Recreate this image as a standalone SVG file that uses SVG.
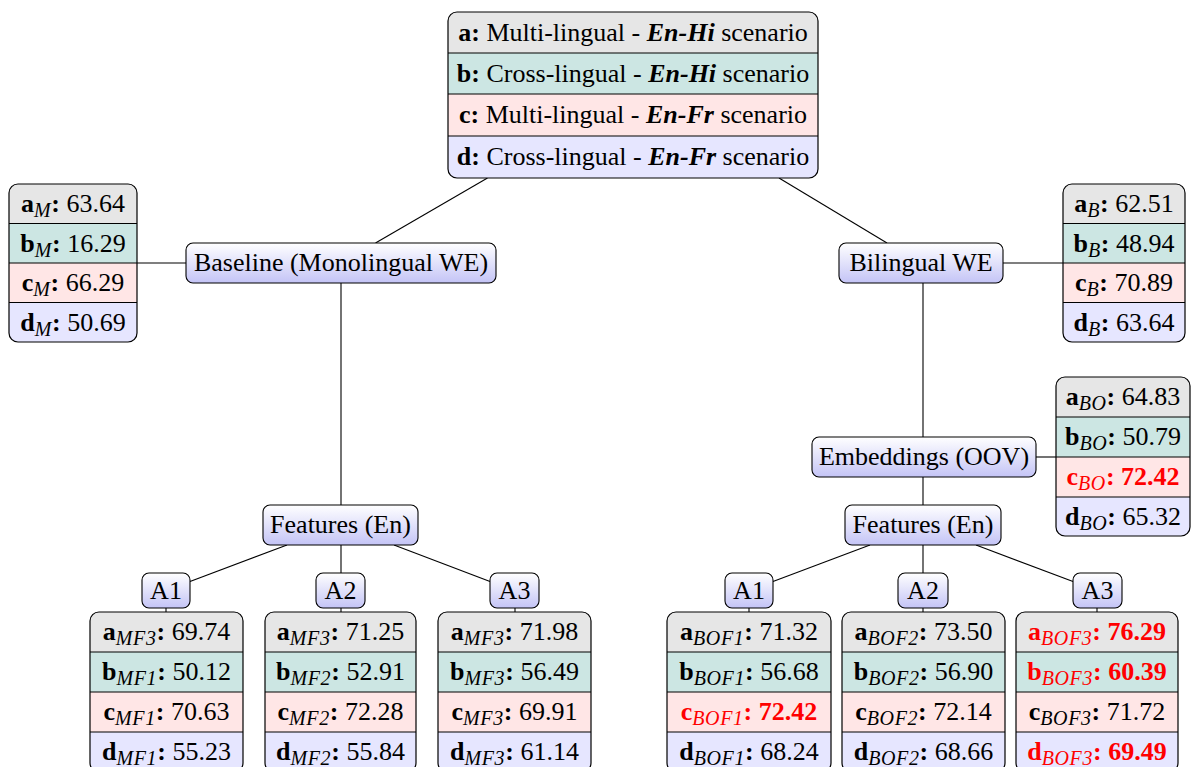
<svg xmlns="http://www.w3.org/2000/svg" width="1192" height="767" viewBox="0 0 1192 767">
<style>
text{font-family:"Liberation Serif","Times New Roman",serif;font-size:26px;fill:#000;text-anchor:middle}
.b{font-weight:bold}
.bi{font-weight:bold;font-style:italic}
.s{font-style:italic;font-size:20px;letter-spacing:0.6px}
.red{fill:#ff0000}
.ra{fill:#e6e6e6}.rb{fill:#cce6e3}.rc{fill:#ffe6e6}.rd{fill:#e6e6ff}
.mid{stroke:none}
.sep{stroke:#000;stroke-width:1.1}
.out{fill:none;stroke:#000;stroke-width:1.2}
.node{fill:url(#ng);stroke:#000;stroke-width:1.1}
#edges line{stroke:#000;stroke-width:1.1}
</style>
<defs>
<linearGradient id="ng" x1="0" y1="0" x2="0" y2="1"><stop offset="0" stop-color="#ffffff"/><stop offset="1" stop-color="#c4c4f6"/></linearGradient>
</defs>
<rect width="1192" height="767" fill="#fff"/>
<g id="edges">
<line x1="487.5" y1="178" x2="375.5" y2="243"/>
<line x1="779" y1="178" x2="887" y2="243"/>
<line x1="137" y1="263" x2="186" y2="263"/>
<line x1="1003" y1="263" x2="1063" y2="263"/>
<line x1="341" y1="283" x2="341" y2="505"/>
<line x1="923" y1="283" x2="923" y2="437"/>
<line x1="1036" y1="457" x2="1056" y2="457"/>
<line x1="923" y1="477" x2="923" y2="505"/>
<line x1="287" y1="545" x2="190" y2="581.5"/>
<line x1="341" y1="545" x2="341" y2="573"/>
<line x1="394" y1="545" x2="490" y2="581.5"/>
<line x1="870" y1="545" x2="773" y2="581.5"/>
<line x1="923" y1="545" x2="923" y2="573"/>
<line x1="976" y1="545" x2="1073" y2="581.5"/>
<line x1="166" y1="608" x2="166" y2="612"/>
<line x1="341" y1="608" x2="341" y2="612"/>
<line x1="515" y1="608" x2="515" y2="612"/>
<line x1="749" y1="608" x2="749" y2="612"/>
<line x1="923" y1="608" x2="923" y2="612"/>
<line x1="1097" y1="608" x2="1097" y2="612"/>
</g>
<g id="legend">
<rect class="rd" x="448" y="12" width="370" height="166" rx="9"/>
<rect class="ra" x="448" y="12" width="370" height="124" rx="9"/>
<rect class="rb mid" x="448" y="53" width="370" height="41"/>
<rect class="rc mid" x="448" y="94" width="370" height="42"/>
<line class="sep" x1="448" y1="53" x2="818" y2="53"/><line class="sep" x1="448" y1="94" x2="818" y2="94"/><line class="sep" x1="448" y1="136" x2="818" y2="136"/>
<rect class="out" x="448" y="12" width="370" height="166" rx="9"/>
<text x="633" y="41"><tspan class="b">a:</tspan> Multi-lingual - <tspan class="bi">En-Hi</tspan> scenario</text>
<text x="633" y="82"><tspan class="b">b:</tspan> Cross-lingual - <tspan class="bi">En-Hi</tspan> scenario</text>
<text x="633" y="123"><tspan class="b">c:</tspan> Multi-lingual - <tspan class="bi">En-Fr</tspan> scenario</text>
<text x="633" y="165"><tspan class="b">d:</tspan> Cross-lingual - <tspan class="bi">En-Fr</tspan> scenario</text>
</g>
<g id="baseline"><rect class="node" x="186" y="243" width="310" height="40" rx="7"/><text x="341" y="271">Baseline (Monolingual WE)</text></g>
<g id="bilingual"><rect class="node" x="839" y="243" width="164" height="40" rx="7"/><text x="921" y="271">Bilingual WE</text></g>
<g id="embeddings"><rect class="node" x="812" y="437" width="224" height="40" rx="7"/><text x="924" y="465">Embeddings (OOV)</text></g>
<g id="featL"><rect class="node" x="263" y="505" width="155" height="40" rx="7"/><text x="340.5" y="533">Features (En)</text></g>
<g id="featR"><rect class="node" x="845" y="505" width="156" height="40" rx="7"/><text x="923" y="533">Features (En)</text></g>
<g id="LA1"><rect class="node" x="142" y="573" width="48" height="35" rx="7"/><text x="166" y="599">A1</text></g>
<g id="LA2"><rect class="node" x="316" y="573" width="49" height="35" rx="7"/><text x="340.5" y="599">A2</text></g>
<g id="LA3"><rect class="node" x="490" y="573" width="49" height="35" rx="7"/><text x="514.5" y="599">A3</text></g>
<g id="RA1"><rect class="node" x="725" y="573" width="48" height="35" rx="7"/><text x="749" y="599">A1</text></g>
<g id="RA2"><rect class="node" x="898" y="573" width="50" height="35" rx="7"/><text x="923" y="599">A2</text></g>
<g id="RA3"><rect class="node" x="1073" y="573" width="49" height="35" rx="7"/><text x="1097.5" y="599">A3</text></g>

<g id="tM">
<rect class="rd" x="9" y="184" width="128" height="158" rx="9"/>
<rect class="ra" x="9" y="184" width="128" height="118" rx="9"/>
<rect class="rb mid" x="9" y="223.5" width="128" height="39.5"/>
<rect class="rc mid" x="9" y="263" width="128" height="39.5"/>
<line class="sep" x1="9" y1="223.5" x2="137" y2="223.5"/><line class="sep" x1="9" y1="263" x2="137" y2="263"/><line class="sep" x1="9" y1="302.5" x2="137" y2="302.5"/>
<rect class="out" x="9" y="184" width="128" height="158" rx="9"/>
<text x="73" y="212"><tspan class="b">a</tspan><tspan class="s" dy="5">M</tspan><tspan class="b" dy="-5">:</tspan> 63.64</text>
<text x="73" y="251.5"><tspan class="b">b</tspan><tspan class="s" dy="5">M</tspan><tspan class="b" dy="-5">:</tspan> 16.29</text>
<text x="73" y="291"><tspan class="b">c</tspan><tspan class="s" dy="5">M</tspan><tspan class="b" dy="-5">:</tspan> 66.29</text>
<text x="73" y="330.5"><tspan class="b">d</tspan><tspan class="s" dy="5">M</tspan><tspan class="b" dy="-5">:</tspan> 50.69</text>
</g>

<g id="tB">
<rect class="rd" x="1063" y="184" width="122" height="158" rx="9"/>
<rect class="ra" x="1063" y="184" width="122" height="118" rx="9"/>
<rect class="rb mid" x="1063" y="223.5" width="122" height="39.5"/>
<rect class="rc mid" x="1063" y="263" width="122" height="39.5"/>
<line class="sep" x1="1063" y1="223.5" x2="1185" y2="223.5"/><line class="sep" x1="1063" y1="263" x2="1185" y2="263"/><line class="sep" x1="1063" y1="302.5" x2="1185" y2="302.5"/>
<rect class="out" x="1063" y="184" width="122" height="158" rx="9"/>
<text x="1124" y="212"><tspan class="b">a</tspan><tspan class="s" dy="5">B</tspan><tspan class="b" dy="-5">:</tspan> 62.51</text>
<text x="1124" y="251.5"><tspan class="b">b</tspan><tspan class="s" dy="5">B</tspan><tspan class="b" dy="-5">:</tspan> 48.94</text>
<text x="1124" y="291"><tspan class="b">c</tspan><tspan class="s" dy="5">B</tspan><tspan class="b" dy="-5">:</tspan> 70.89</text>
<text x="1124" y="330.5"><tspan class="b">d</tspan><tspan class="s" dy="5">B</tspan><tspan class="b" dy="-5">:</tspan> 63.64</text>
</g>

<g id="tBO">
<rect class="rd" x="1056" y="377" width="134" height="159" rx="9"/>
<rect class="ra" x="1056" y="377" width="134" height="120" rx="9"/>
<rect class="rb mid" x="1056" y="417" width="134" height="40"/>
<rect class="rc mid" x="1056" y="457" width="134" height="40"/>
<line class="sep" x1="1056" y1="417" x2="1190" y2="417"/><line class="sep" x1="1056" y1="457" x2="1190" y2="457"/><line class="sep" x1="1056" y1="497" x2="1190" y2="497"/>
<rect class="out" x="1056" y="377" width="134" height="159" rx="9"/>
<text x="1123" y="405"><tspan class="b">a</tspan><tspan class="s" dy="5">BO</tspan><tspan class="b" dy="-5">:</tspan> 64.83</text>
<text x="1123" y="445"><tspan class="b">b</tspan><tspan class="s" dy="5">BO</tspan><tspan class="b" dy="-5">:</tspan> 50.79</text>
<text x="1123" y="485" class="red"><tspan class="b">c</tspan><tspan class="s" dy="5">BO</tspan><tspan class="b" dy="-5">: 72.42</tspan></text>
<text x="1123" y="524.5"><tspan class="b">d</tspan><tspan class="s" dy="5">BO</tspan><tspan class="b" dy="-5">:</tspan> 65.32</text>
</g>

<g id="tMF1">
<rect class="rd" x="90" y="612" width="153" height="160" rx="9"/>
<rect class="ra" x="90" y="612" width="153" height="120" rx="9"/>
<rect class="rb mid" x="90" y="652" width="153" height="40"/>
<rect class="rc mid" x="90" y="692" width="153" height="40"/>
<line class="sep" x1="90" y1="652" x2="243" y2="652"/><line class="sep" x1="90" y1="692" x2="243" y2="692"/><line class="sep" x1="90" y1="732" x2="243" y2="732"/>
<rect class="out" x="90" y="612" width="153" height="160" rx="9"/>
<text x="166.5" y="640"><tspan class="b">a</tspan><tspan class="s" dy="5">MF3</tspan><tspan class="b" dy="-5">:</tspan> 69.74</text>
<text x="166.5" y="680"><tspan class="b">b</tspan><tspan class="s" dy="5">MF1</tspan><tspan class="b" dy="-5">:</tspan> 50.12</text>
<text x="166.5" y="720"><tspan class="b">c</tspan><tspan class="s" dy="5">MF1</tspan><tspan class="b" dy="-5">:</tspan> 70.63</text>
<text x="166.5" y="760"><tspan class="b">d</tspan><tspan class="s" dy="5">MF1</tspan><tspan class="b" dy="-5">:</tspan> 55.23</text>
</g>

<g id="tMF2">
<rect class="rd" x="265" y="612" width="151" height="160" rx="9"/>
<rect class="ra" x="265" y="612" width="151" height="120" rx="9"/>
<rect class="rb mid" x="265" y="652" width="151" height="40"/>
<rect class="rc mid" x="265" y="692" width="151" height="40"/>
<line class="sep" x1="265" y1="652" x2="416" y2="652"/><line class="sep" x1="265" y1="692" x2="416" y2="692"/><line class="sep" x1="265" y1="732" x2="416" y2="732"/>
<rect class="out" x="265" y="612" width="151" height="160" rx="9"/>
<text x="340.5" y="640"><tspan class="b">a</tspan><tspan class="s" dy="5">MF3</tspan><tspan class="b" dy="-5">:</tspan> 71.25</text>
<text x="340.5" y="680"><tspan class="b">b</tspan><tspan class="s" dy="5">MF2</tspan><tspan class="b" dy="-5">:</tspan> 52.91</text>
<text x="340.5" y="720"><tspan class="b">c</tspan><tspan class="s" dy="5">MF2</tspan><tspan class="b" dy="-5">:</tspan> 72.28</text>
<text x="340.5" y="760"><tspan class="b">d</tspan><tspan class="s" dy="5">MF2</tspan><tspan class="b" dy="-5">:</tspan> 55.84</text>
</g>

<g id="tMF3">
<rect class="rd" x="438" y="612" width="153" height="160" rx="9"/>
<rect class="ra" x="438" y="612" width="153" height="120" rx="9"/>
<rect class="rb mid" x="438" y="652" width="153" height="40"/>
<rect class="rc mid" x="438" y="692" width="153" height="40"/>
<line class="sep" x1="438" y1="652" x2="591" y2="652"/><line class="sep" x1="438" y1="692" x2="591" y2="692"/><line class="sep" x1="438" y1="732" x2="591" y2="732"/>
<rect class="out" x="438" y="612" width="153" height="160" rx="9"/>
<text x="514.5" y="640"><tspan class="b">a</tspan><tspan class="s" dy="5">MF3</tspan><tspan class="b" dy="-5">:</tspan> 71.98</text>
<text x="514.5" y="680"><tspan class="b">b</tspan><tspan class="s" dy="5">MF3</tspan><tspan class="b" dy="-5">:</tspan> 56.49</text>
<text x="514.5" y="720"><tspan class="b">c</tspan><tspan class="s" dy="5">MF3</tspan><tspan class="b" dy="-5">:</tspan> 69.91</text>
<text x="514.5" y="760"><tspan class="b">d</tspan><tspan class="s" dy="5">MF3</tspan><tspan class="b" dy="-5">:</tspan> 61.14</text>
</g>

<g id="tBOF1">
<rect class="rd" x="667" y="612" width="164" height="160" rx="9"/>
<rect class="ra" x="667" y="612" width="164" height="120" rx="9"/>
<rect class="rb mid" x="667" y="652" width="164" height="40"/>
<rect class="rc mid" x="667" y="692" width="164" height="40"/>
<line class="sep" x1="667" y1="652" x2="831" y2="652"/><line class="sep" x1="667" y1="692" x2="831" y2="692"/><line class="sep" x1="667" y1="732" x2="831" y2="732"/>
<rect class="out" x="667" y="612" width="164" height="160" rx="9"/>
<text x="749" y="640"><tspan class="b">a</tspan><tspan class="s" dy="5">BOF1</tspan><tspan class="b" dy="-5">:</tspan> 71.32</text>
<text x="749" y="680"><tspan class="b">b</tspan><tspan class="s" dy="5">BOF1</tspan><tspan class="b" dy="-5">:</tspan> 56.68</text>
<text x="749" y="720" class="red"><tspan class="b">c</tspan><tspan class="s" dy="5">BOF1</tspan><tspan class="b" dy="-5">: 72.42</tspan></text>
<text x="749" y="760"><tspan class="b">d</tspan><tspan class="s" dy="5">BOF1</tspan><tspan class="b" dy="-5">:</tspan> 68.24</text>
</g>

<g id="tBOF2">
<rect class="rd" x="842" y="612" width="163" height="160" rx="9"/>
<rect class="ra" x="842" y="612" width="163" height="120" rx="9"/>
<rect class="rb mid" x="842" y="652" width="163" height="40"/>
<rect class="rc mid" x="842" y="692" width="163" height="40"/>
<line class="sep" x1="842" y1="652" x2="1005" y2="652"/><line class="sep" x1="842" y1="692" x2="1005" y2="692"/><line class="sep" x1="842" y1="732" x2="1005" y2="732"/>
<rect class="out" x="842" y="612" width="163" height="160" rx="9"/>
<text x="923.5" y="640"><tspan class="b">a</tspan><tspan class="s" dy="5">BOF2</tspan><tspan class="b" dy="-5">:</tspan> 73.50</text>
<text x="923.5" y="680"><tspan class="b">b</tspan><tspan class="s" dy="5">BOF2</tspan><tspan class="b" dy="-5">:</tspan> 56.90</text>
<text x="923.5" y="720"><tspan class="b">c</tspan><tspan class="s" dy="5">BOF2</tspan><tspan class="b" dy="-5">:</tspan> 72.14</text>
<text x="923.5" y="760"><tspan class="b">d</tspan><tspan class="s" dy="5">BOF2</tspan><tspan class="b" dy="-5">:</tspan> 68.66</text>
</g>

<g id="tBOF3">
<rect class="rd" x="1016" y="612" width="162" height="160" rx="9"/>
<rect class="ra" x="1016" y="612" width="162" height="120" rx="9"/>
<rect class="rb mid" x="1016" y="652" width="162" height="40"/>
<rect class="rc mid" x="1016" y="692" width="162" height="40"/>
<line class="sep" x1="1016" y1="652" x2="1178" y2="652"/><line class="sep" x1="1016" y1="692" x2="1178" y2="692"/><line class="sep" x1="1016" y1="732" x2="1178" y2="732"/>
<rect class="out" x="1016" y="612" width="162" height="160" rx="9"/>
<text x="1097" y="640" class="red"><tspan class="b">a</tspan><tspan class="s" dy="5">BOF3</tspan><tspan class="b" dy="-5">: 76.29</tspan></text>
<text x="1097" y="680" class="red"><tspan class="b">b</tspan><tspan class="s" dy="5">BOF3</tspan><tspan class="b" dy="-5">: 60.39</tspan></text>
<text x="1097" y="720"><tspan class="b">c</tspan><tspan class="s" dy="5">BOF3</tspan><tspan class="b" dy="-5">:</tspan> 71.72</text>
<text x="1097" y="760" class="red"><tspan class="b">d</tspan><tspan class="s" dy="5">BOF3</tspan><tspan class="b" dy="-5">: 69.49</tspan></text>
</g>
</svg>
